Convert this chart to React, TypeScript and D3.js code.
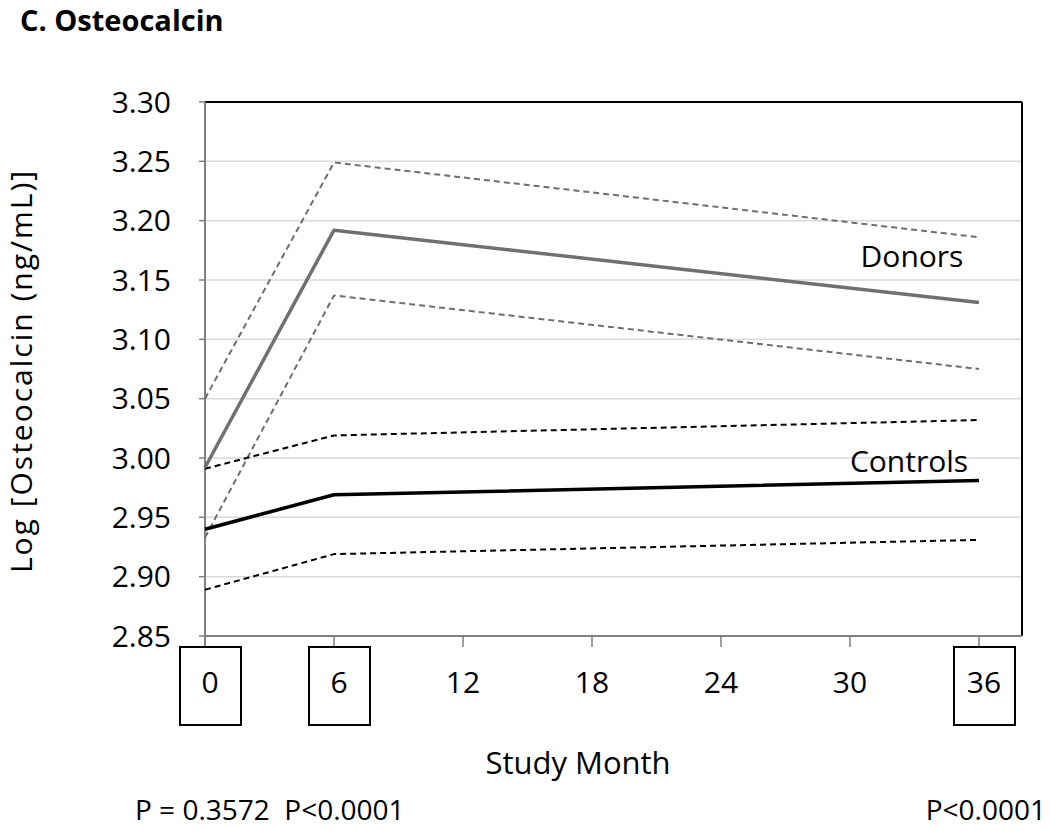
import React from "react";
import * as d3 from "d3";

const months = [0, 6, 36];
const donorsMean = [2.992, 3.192, 3.131];
const donorsUpper = [3.05, 3.249, 3.186];
const donorsLower = [2.933, 3.137, 3.075];
const controlsMean = [2.94, 2.969, 2.981];
const controlsUpper = [2.991, 3.019, 3.032];
const controlsLower = [2.889, 2.919, 2.931];
const yTicks = [2.85, 2.9, 2.95, 3.0, 3.05, 3.1, 3.15, 3.2, 3.25, 3.3];
const xTicks = [0, 6, 12, 18, 24, 30, 36];
const boxedTicks = [0, 6, 36];

const FONT = "'Open Sans', sans-serif";

export default function App() {
  const W = 1050, H = 830;
  const left = 205, right = 1022, top = 102, bottom = 636;
  const x = d3.scaleLinear().domain([0, 38]).range([left, right]);
  const y = d3.scaleLinear().domain([2.85, 3.3]).range([bottom, top]);
  const line = d3.line<number>().x((_, i) => x(months[i])).y((d) => y(d));

  const series = [
    { v: donorsUpper, c: "#6e6e6e", w: 2, dash: "6,4" },
    { v: donorsLower, c: "#6e6e6e", w: 2, dash: "6,4" },
    { v: controlsUpper, c: "#000", w: 2, dash: "6,4" },
    { v: controlsLower, c: "#000", w: 2, dash: "6,4" },
    { v: donorsMean, c: "#707070", w: 3.5, dash: null },
    { v: controlsMean, c: "#000", w: 3.5, dash: null },
  ];

  return (
    <svg width={W} height={H} style={{ position: "absolute", left: 0, top: 0, background: "#fff" }} fontFamily={FONT}>
      <text x={20} y={31} fontSize={29} fontWeight="bold">C. Osteocalcin</text>
      {yTicks.map((t) => (
        <g key={t}>
          {t > 2.85 && <line x1={left} x2={right} y1={y(t)} y2={y(t)} stroke="#d9d9d9" strokeWidth={1.5} />}
          <line x1={left - 6} x2={left} y1={y(t)} y2={y(t)} stroke="#808080" strokeWidth={1.5} />
          <text x={171} y={y(t)} dy="0.36em" textAnchor="end" fontSize={30}>{t.toFixed(2)}</text>
        </g>
      ))}
      <line x1={left} x2={right} y1={top} y2={top} stroke="#000" strokeWidth={2} />
      <line x1={right} x2={right} y1={top} y2={bottom} stroke="#000" strokeWidth={2} />
      <line x1={left} x2={left} y1={top} y2={bottom + 10} stroke="#808080" strokeWidth={2} />
      <line x1={left} x2={right} y1={bottom} y2={bottom} stroke="#808080" strokeWidth={2} />
      {xTicks.map((t) => (
        <g key={t}>
          <line x1={x(t)} x2={x(t)} y1={bottom} y2={bottom + 11} stroke="#808080" strokeWidth={1.5} />
          {boxedTicks.includes(t) && (
            <rect x={x(t) - 25} y={bottom + 11} width={61} height={78} fill="none" stroke="#000" strokeWidth={2} />
          )}
          <text x={x(t) + (boxedTicks.includes(t) ? 5 : 0)} y={693} textAnchor="middle" fontSize={30}>{t}</text>
        </g>
      ))}
      {series.map((s, i) => (
        <path key={i} d={line(s.v) || ""} fill="none" stroke={s.c} strokeWidth={s.w}
          strokeDasharray={s.dash || undefined} strokeLinejoin="round" />
      ))}
      <text x={912} y={267} textAnchor="middle" fontSize={30}>Donors</text>
      <text x={909} y={472} textAnchor="middle" fontSize={30}>Controls</text>
      <text transform={`translate(32,371) rotate(-90)`} textAnchor="middle" fontSize={30} letterSpacing={2}>Log [Osteocalcin (ng/mL)]</text>
      <text x={578} y={774} textAnchor="middle" fontSize={31}>Study Month</text>
      <text x={135} y={820} fontSize={28} xmlSpace="preserve">P = 0.3572  P&lt;0.0001</text>
      <text x={1046} y={820} textAnchor="end" fontSize={28}>P&lt;0.0001</text>
    </svg>
  );
}
